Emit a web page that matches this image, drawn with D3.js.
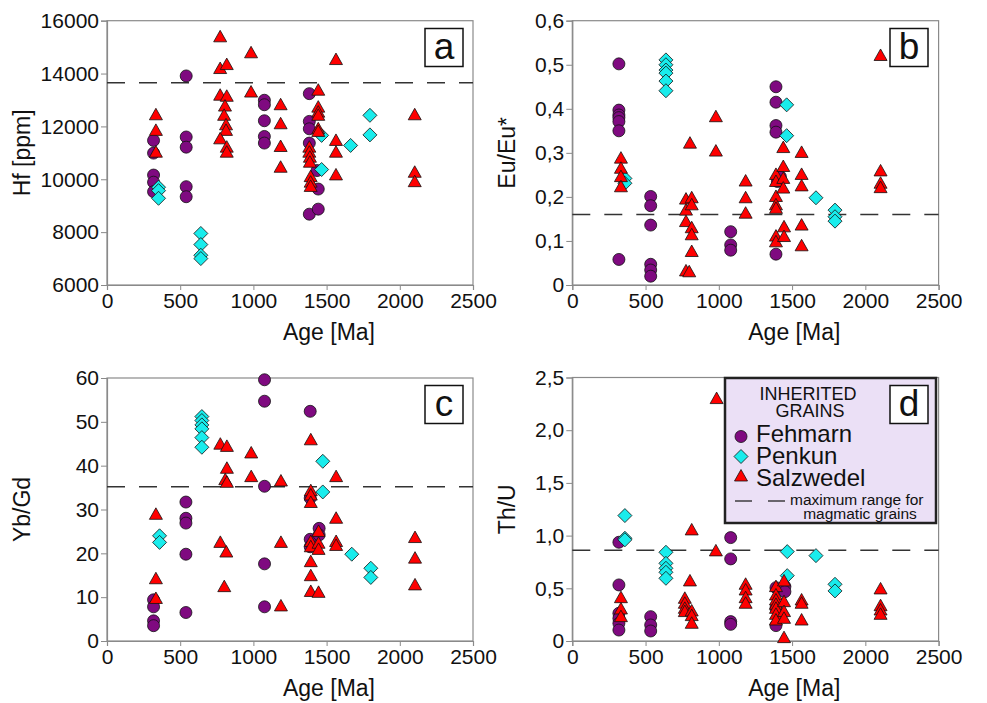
<!DOCTYPE html>
<html><head><meta charset="utf-8">
<script src="https://cdn.jsdelivr.net/npm/d3@7"></script>
<style>body{margin:0;background:#fff}svg{display:block;font-family:"Liberation Sans",Arial,sans-serif}</style>
</head><body><svg id="c" width="987" height="703"></svg>
<script>
// ---- data: [age Ma, value] ----
const seriesNames = ["Fehmarn","Penkun","Salzwedel"];
const ageTicks = [0,500,1000,1500,2000,2500];
const hfTicks = [6000,8000,10000,12000,14000,16000];
const euTicks = [0,0.1,0.2,0.3,0.4,0.5,0.6];
const ybTicks = [0,10,20,30,40,50,60];
const thTicks = [0,0.5,1,1.5,2,2.5];
const maxRange = {a:13650, b:0.16, c:35.2, d:0.86};

const hfFehmarn = [[318,11470],[318,10990],[318,10160],[318,9890],[318,9530],[541,13910],[541,11600],[541,11215],[541,9720],[541,9340],
 [1075,12990],[1075,12820],[1075,12215],[1075,11620],[1075,11370],[1382,13240],[1382,12190],[1382,11910],[1382,11370],[1382,8680],
 [1443,9630],[1443,8870],[1435,10330]];
const hfPenkun = [[352,9700],[352,9570],[352,9280],[641,7950],[641,7530],[641,7125],[641,7000],[1466,11660],[1466,10370],[1664,11280],[1796,12420],[1796,11680]];
const hfSalzwedel = [[334,12440],[334,11850],[334,11025],[773,15390],[773,14190],[818,14340],[984,14785],[984,13300],[1564,14530],
 [773,13180],[818,13140],[806,12770],[800,12420],[813,12060],[813,11850],[773,11530],[818,11215],[818,11025],
 [1186,12820],[1186,12100],[1186,11240],[1186,10455],[1443,13370],[1443,12730],[1443,12540],[1443,12420],[1443,11910],[1443,11810],
 [1382,11215],[1382,11025],[1386,10835],[1386,10645],[1391,10100],[1391,9890],[1391,9730],[1564,11470],[1564,11025],[1564,10165],
 [2102,12440],[2102,10265],[2102,9910]];

const euFehmarn = [[318,0.502],[318,0.397],[318,0.386],[318,0.380],[318,0.371],[318,0.350],[318,0.058],[535,0.201],[535,0.180],[535,0.136],
 [535,0.047],[535,0.034],[535,0.020],[1081,0.121],[1081,0.091],[1081,0.079],[1390,0.450],[1390,0.415],[1390,0.362],[1390,0.347],[1390,0.070],
 [1420,0.246],[1400,0.235]];
const euPenkun = [[359,0.242],[359,0.231],[639,0.511],[639,0.500],[639,0.488],[639,0.481],[639,0.463],[639,0.441],[1463,0.409],[1463,0.339],
 [1663,0.198],[1793,0.170],[1793,0.155],[1793,0.145]];
const euSalzwedel = [[332,0.288],[332,0.265],[332,0.246],[332,0.223],[803,0.322],[776,0.195],[776,0.170],[776,0.144],[776,0.032],[798,0.030],
 [815,0.198],[815,0.182],[815,0.130],[815,0.114],[815,0.076],[980,0.382],[980,0.304],[1183,0.236],[1183,0.198],[1183,0.163],
 [1390,0.251],[1390,0.235],[1390,0.201],[1390,0.182],[1390,0.174],[1390,0.111],[1390,0.098],[1440,0.312],[1440,0.269],[1440,0.242],[1440,0.220],
 [1445,0.132],[1445,0.110],[1565,0.301],[1565,0.251],[1565,0.225],[1565,0.136],[1565,0.089],[2104,0.521],[2104,0.259],[2104,0.231],[2104,0.221]];

const ybFehmarn = [[318,9.4],[318,7.8],[318,4.6],[318,3.5],[539,31.7],[539,28.0],[539,26.9],[539,19.8],[539,6.5],
 [1076,59.6],[1076,54.7],[1076,35.3],[1076,17.6],[1076,7.8],[1388,52.4],[1388,32.6],[1388,23.2],[1388,21.5],[1449,25.7],[1449,24.2]];
const ybPenkun = [[359,24.0],[359,22.5],[648,51.2],[648,50.3],[648,49.3],[648,48.4],[648,46.4],[648,44.2],[1474,41.0],[1474,34.0],
 [1672,19.8],[1802,16.6],[1802,14.5]];
const ybSalzwedel = [[334,28.9],[334,14.2],[334,9.7],[774,44.9],[819,44.4],[819,39.4],[808,36.8],[819,36.2],[774,22.5],[815,20.3],[801,12.4],
 [985,42.9],[985,37.5],[1188,36.5],[1188,22.5],[1188,8.0],[1392,45.9],[1392,34.3],[1392,33.3],[1392,31.6],[1392,22.7],[1392,21.5],
 [1392,18.1],[1392,14.9],[1392,11.3],[1445,25.0],[1445,22.3],[1445,20.9],[1445,11.1],[1565,37.5],[1565,28.0],[1565,22.7],[1565,21.8],
 [2104,23.6],[2104,18.9],[2104,12.8]];

const thFehmarn = [[318,0.937],[318,0.532],[318,0.263],[318,0.215],[318,0.168],[318,0.104],[535,0.231],[535,0.152],[535,0.095],
 [1081,0.981],[1081,0.779],[1081,0.184],[1081,0.158],[1390,0.506],[1390,0.310],[1390,0.146],[1451,0.516],[1451,0.468]];
const thPenkun = [[359,1.19],[359,0.975],[359,0.96],[639,0.842],[639,0.737],[639,0.690],[639,0.652],[639,0.595],[1467,0.848],[1467,0.620],
 [1663,0.810],[1793,0.538],[1793,0.475]];
const thSalzwedel = [[332,0.411],[332,0.304],[332,0.231],[815,1.054],[803,0.570],[768,0.405],[768,0.358],[768,0.310],[768,0.279],
 [815,0.285],[815,0.241],[815,0.168],[985,2.30],[980,0.855],[1183,0.538],[1183,0.484],[1183,0.411],[1183,0.358],
 [1390,0.516],[1390,0.437],[1390,0.389],[1390,0.348],[1390,0.310],[1390,0.253],[1390,0.199],[1445,0.570],[1445,0.373],[1445,0.279],
 [1445,0.215],[1445,0.032],[1565,0.389],[1565,0.358],[1565,0.199],[2104,0.494],[2104,0.335],[2104,0.294],[2104,0.253]];

// ---- layout / style ----
const colors = {Fehmarn:"#7f0a80", Penkun:"#19ecec", Salzwedel:"#ff0000"};
const comma = d => d===0 ? "0" : d3.format(".1f")(d).replace(".", ",");
const panels = [
  {id:"a", L:107, R:473, T:20.7, B:285, dom:[6000,16000], ticks:hfTicks, fmt:d=>String(d), title:"Hf [ppm]", tx:22,
   data:[hfFehmarn,hfPenkun,hfSalzwedel], box:[425,28.5]},
  {id:"b", L:572.3, R:938.6, T:20.7, B:285, dom:[0,0.6], ticks:euTicks, fmt:comma, title:"Eu/Eu*", tx:507,
   data:[euFehmarn,euPenkun,euSalzwedel], box:[890,28.5]},
  {id:"c", L:107, R:473, T:378, B:641, dom:[0,60], ticks:ybTicks, fmt:d=>String(d), title:"Yb/Gd", tx:22,
   data:[ybFehmarn,ybPenkun,ybSalzwedel], box:[425,385.5]},
  {id:"d", L:572.3, R:938.6, T:377.5, B:641, dom:[0,2.5], ticks:thTicks, fmt:comma, title:"Th/U", tx:507,
   data:[thFehmarn,thPenkun,thSalzwedel], box:[890,385.5]}
];

const svg = d3.select("#c");
function marker(g, name, x, y){
  let p;
  if(name==="Fehmarn"){
    p = g.append("circle").attr("cx",x).attr("cy",y).attr("r",6);
  } else if(name==="Penkun"){
    p = g.append("path").attr("d",`M${x},${y-7}L${x+7},${y}L${x},${y+7}L${x-7},${y}Z`);
  } else {
    p = g.append("path").attr("d",`M${x},${y-6.5}L${x+6.5},${y+5}L${x-6.5},${y+5}Z`);
  }
  p.attr("fill",colors[name]).attr("stroke","#111").attr("stroke-width",0.8);
}

panels.forEach(P => {
  const x = d3.scaleLinear().domain([0,2500]).range([P.L,P.R]);
  const y = d3.scaleLinear().domain(P.dom).range([P.B,P.T]);
  const g = svg.append("g");
  g.append("rect").attr("x",P.L).attr("y",P.T).attr("width",P.R-P.L).attr("height",P.B-P.T)
    .attr("fill","none").attr("stroke","#8a8a8a").attr("stroke-width",1.2);
  const ax = g.append("g").attr("transform",`translate(0,${P.B})`)
    .call(d3.axisBottom(x).tickValues(ageTicks).tickSize(5).tickPadding(2).tickFormat(d=>String(d)));
  const ay = g.append("g").attr("transform",`translate(${P.L},0)`)
    .call(d3.axisLeft(y).tickValues(P.ticks).tickSize(6).tickPadding(2).tickFormat(P.fmt));
  [ax,ay].forEach(a=>{
    a.select(".domain").attr("stroke","#8a8a8a").attr("stroke-width",1.2);
    a.selectAll(".tick line").attr("stroke","#8a8a8a");
    a.selectAll("text").attr("font-size",21).attr("fill","#111").attr("font-family","Liberation Sans, Arial, sans-serif");
  });
  ax.selectAll("text").attr("dy","0.78em");
  g.append("text").attr("x",x(0)+222).attr("y",P.B+55).attr("text-anchor","middle")
    .attr("font-size",23).attr("fill","#111").text("Age [Ma]");
  g.append("text").attr("transform",`translate(${P.tx},${(P.T+P.B)/2}) rotate(-90)`)
    .attr("text-anchor","middle").attr("dy","0.35em").attr("font-size",23).attr("fill","#111").text(P.title);
  g.append("line").attr("x1",P.L).attr("x2",P.R).attr("y1",y(maxRange[P.id])).attr("y2",y(maxRange[P.id]))
    .attr("stroke","#333").attr("stroke-width",1.5).attr("stroke-dasharray","18,14");
  const pg = g.append("g");
  P.data.forEach((arr,i) => {
    const name = seriesNames[i];
    arr.forEach(d => marker(pg, name, x(d[0]), y(d[1])));
  });
  if(P.id==="d"){
    const lg = g.append("g");
    lg.append("rect").attr("x",725).attr("y",378).attr("width",211).attr("height",145)
      .attr("fill","#ebe0f6").attr("stroke","#222").attr("stroke-width",2.5);
    lg.append("text").attr("x",808).attr("y",399.5).attr("text-anchor","middle").attr("font-size",18).attr("fill","#111").text("INHERITED");
    lg.append("text").attr("x",810).attr("y",416.5).attr("text-anchor","middle").attr("font-size",18).attr("fill","#111").text("GRAINS");
    const ly = [436.5,456.5,476];
    const lt = [442,464,485.5];
    seriesNames.forEach((n,i)=>{
      marker(lg, n, 741, ly[i]);
      lg.append("text").attr("x",756).attr("y",lt[i]).attr("font-size",24).attr("fill","#111").text(n);
    });
    lg.append("line").attr("x1",735).attr("x2",752).attr("y1",501).attr("y2",501).attr("stroke","#222").attr("stroke-width",1.3);
    lg.append("line").attr("x1",768).attr("x2",785).attr("y1",501).attr("y2",501).attr("stroke","#222").attr("stroke-width",1.3);
    lg.append("text").attr("x",790).attr("y",505).attr("font-size",15.5).attr("fill","#111").text("maximum range for");
    lg.append("text").attr("x",860).attr("y",518.5).attr("text-anchor","middle").attr("font-size",15.5).attr("fill","#111").text("magmatic grains");
  }
  g.append("rect").attr("x",P.box[0]).attr("y",P.box[1]).attr("width",38).attr("height",38)
    .attr("fill","#fff").attr("stroke","#111").attr("stroke-width",1.5);
  g.append("text").attr("x",P.box[0]+19).attr("y",P.box[1]+30).attr("text-anchor","middle")
    .attr("font-size",37).attr("fill","#111").text(P.id);
});
</script></body></html>
